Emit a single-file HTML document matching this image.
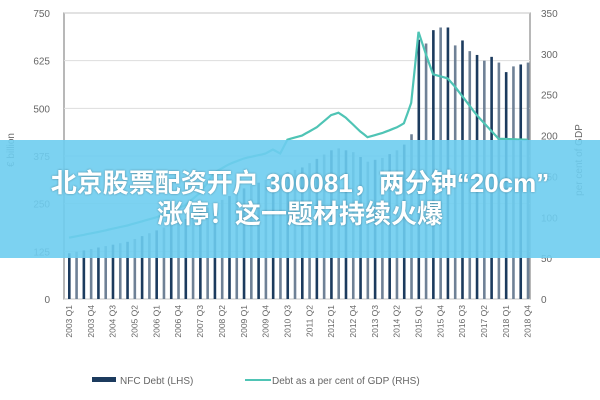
<!DOCTYPE html>
<html><head><meta charset="utf-8"><style>
body{margin:0;width:600px;height:400px;overflow:hidden;background:#fff;font-family:"Liberation Sans","Noto Sans CJK SC",sans-serif;}
#c{position:absolute;left:0;top:0}
.banner{position:absolute;left:0;top:140px;width:600px;height:118px;background:rgba(110,205,240,0.9);color:#fff;font-weight:bold;font-size:26px;line-height:31px;text-align:center;padding-top:28px;box-sizing:border-box;font-family:"Liberation Sans","Noto Sans CJK SC",sans-serif;text-shadow:0 0 2px rgba(0,0,0,0.35);}
</style></head><body>
<svg id="c" width="600" height="400" xmlns="http://www.w3.org/2000/svg"></svg>
<div class="banner">北京股票配资开户 300081，两分钟“20cm”<br>涨停！这一题材持续火爆</div>
<script>
const s=document.getElementById('c');let h='';
const L=64,R=530,T=13,B=299;
const yl=v=>B-(v/750)*(B-T), yr=v=>B-(v/350)*(B-T);
h+=`<rect x="${L}" y="${T}" width="${R-L}" height="${B-T}" fill="none" stroke="#888" stroke-width="1.2"/>`;
[0,125,250,375,500,625,750].forEach(v=>{const y=yl(v);h+=`<line x1="${L}" x2="${R}" y1="${y}" y2="${y}" stroke="#ddd"/>`;
h+=`<text x="50" y="${y+4}" font-size="10" fill="#666" text-anchor="end">${v}</text>`;});
for(let v=0;v<=350;v+=50){h+=`<text x="541" y="${yr(v)+4}" font-size="10" fill="#666">${v}</text>`;}
function interp(k,i){for(let j=0;j<k.length-1;j++){if(i>=k[j][0]&&i<=k[j+1][0]){const t=(i-k[j][0])/(k[j+1][0]-k[j][0]);return k[j][1]+t*(k[j+1][1]-k[j][1]);}}return k[k.length-1][1];}
const bk=[[0,120],[8,150],[16,210],[20,250],[24,290],[28,320],[32,345],[36,390],[37,395],[39,385],[41,360],[43,370],[45,390],[46,405],[47,432]];
const late=[680,670,705,712,712,665,678,650,640,625,635,620,595,610,615,620];
const w=(R-L)/64;
for(let i=0;i<64;i++){let v=i<48?interp(bk,i):late[i-48];
const x=L+4+i*w;h+=`<rect x="${x}" y="${yl(v)}" width="2.6" height="${B-yl(v)}" fill="${i%2?'#6f8196':'#1c3b5e'}"/>`;}
const lk=[[0,75],[4,82],[8,90],[12,100],[16,115],[18,130],[20,155],[22,165],[24,172],[27,178],[28,183],[29,178],[30,195],[32,200],[34,210],[36,225],[37,228],[38,222],[40,205],[41,198],[43,203],[45,210],[46,215],[47,240],[48,327],[49,300],[50,275],[52,270],[53,260],[56,225],[59,196],[63,195]];
let p='';for(let i=0;i<=63;i+=0.5){const x=L+5+i*w;p+=(i?'L':'M')+x.toFixed(1)+','+yr(interp(lk,i)).toFixed(1);}
h+=`<path d="${p}" fill="none" stroke="#4fc4b5" stroke-width="2.2"/>`;
for(let i=0;i<64;i+=3){const x=L+5+i*w;h+=`<text transform="translate(${x+3},305) rotate(-90)" font-size="8.5" fill="#666" text-anchor="end">${2003+Math.floor(i/4)} Q${i%4+1}</text>`;}
h+=`<text transform="translate(14,150) rotate(-90)" font-size="10" fill="#666" text-anchor="middle">€ billion</text>`;
h+=`<text transform="translate(582,160) rotate(-90)" font-size="10" fill="#666" text-anchor="middle">per cent of GDP</text>`;
h+=`<rect x="92" y="377" width="24" height="5" fill="#1c3b5e"/><text x="120" y="384" font-size="10" fill="#666">NFC Debt (LHS)</text>`;
h+=`<line x1="245" x2="271" y1="380" y2="380" stroke="#4fc4b5" stroke-width="2"/><text x="272" y="384" font-size="10" fill="#666">Debt as a per cent of GDP (RHS)</text>`;
s.innerHTML=h;
</script>
</body></html>
